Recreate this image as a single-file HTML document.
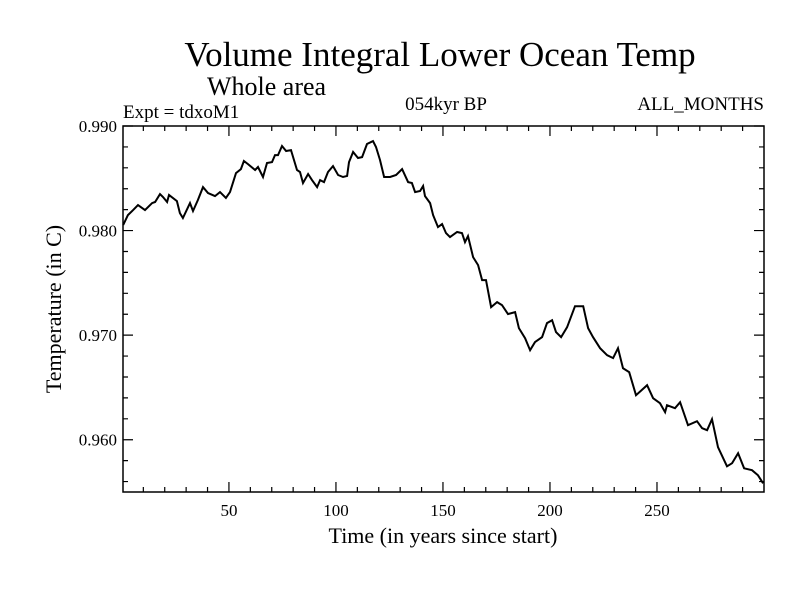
<!DOCTYPE html>
<html><head><meta charset="utf-8"><style>
body{margin:0;background:#fff;width:800px;height:600px;overflow:hidden}
text{font-family:"Liberation Serif",serif;fill:#000}
</style></head><body>
<svg id="chart" width="800" height="600" xmlns="http://www.w3.org/2000/svg">
<text x="440" y="66" font-size="35" text-anchor="middle">Volume Integral Lower Ocean Temp</text>
<text x="207" y="95" font-size="26">Whole area</text>
<text x="123" y="118" font-size="19">Expt = tdxoM1</text>
<text x="446" y="110" font-size="19" text-anchor="middle">054kyr BP</text>
<text x="764" y="110" font-size="19" text-anchor="end">ALL_MONTHS</text>
<text x="443" y="543" font-size="22" text-anchor="middle">Time (in years since start)</text>
<text transform="translate(61,309) rotate(-90)" font-size="22" text-anchor="middle">Temperature (in C)</text>
<g id="axes"></g>
<path id="series" fill="none" stroke="#000" stroke-width="2"/>
</svg>
<script>
const years=[0.6,2.8,5.2,7.5,10.8,14.1,15.5,17.8,19.2,21.1,22.0,25.7,27.1,28.5,31.8,33.2,35.5,37.9,40.2,43.5,45.8,48.6,50.5,53.3,55.6,57.0,58.9,62.2,63.6,65.9,67.8,70.1,71.5,72.9,74.8,76.7,79.0,81.8,83.2,84.6,87.0,88.8,91.2,92.6,94.4,96.3,98.6,101.0,103.3,105.2,106.1,108.0,110.3,112.2,114.5,117.3,118.7,120.6,122.5,125.3,128.1,130.9,133.7,135.5,137.0,139.3,140.7,141.6,144.0,145.4,147.7,149.6,151.4,153.3,156.6,158.9,160.3,161.7,164.1,166.4,168.3,170.1,172.5,175.3,177.6,180.4,183.7,185.5,188.4,190.7,193.0,196.3,198.6,201.0,202.8,205.2,208.0,211.7,215.5,217.8,220.1,223.4,226.7,229.5,231.8,234.1,237.0,240.2,245.4,248.2,251.4,253.8,254.7,258.4,260.8,264.5,268.7,271.1,273.4,275.7,278.5,282.7,285.1,287.9,290.7,294.4,297.2,299.6];
const temps=[0.98053,0.98148,0.98196,0.98244,0.98196,0.98263,0.98273,0.98349,0.98321,0.98273,0.98340,0.98282,0.98167,0.98120,0.98263,0.98187,0.98292,0.98416,0.98359,0.98330,0.98368,0.98311,0.98368,0.98550,0.98588,0.98665,0.98636,0.98579,0.98608,0.98512,0.98646,0.98655,0.98722,0.98722,0.98809,0.98761,0.98770,0.98579,0.98560,0.98455,0.98541,0.98483,0.98416,0.98483,0.98464,0.98560,0.98617,0.98531,0.98512,0.98522,0.98655,0.98751,0.98694,0.98703,0.98828,0.98856,0.98799,0.98675,0.98512,0.98512,0.98531,0.98588,0.98464,0.98455,0.98368,0.98378,0.98426,0.98330,0.98263,0.98148,0.98033,0.98062,0.97976,0.97938,0.97986,0.97976,0.97890,0.97947,0.97746,0.97670,0.97526,0.97526,0.97268,0.97316,0.97287,0.97201,0.97220,0.97067,0.96971,0.96856,0.96933,0.96981,0.97115,0.97143,0.97029,0.96981,0.97076,0.97277,0.97277,0.97067,0.96981,0.96875,0.96808,0.96780,0.96875,0.96684,0.96646,0.96426,0.96521,0.96397,0.96349,0.96263,0.96330,0.96301,0.96359,0.96139,0.96177,0.96110,0.96091,0.96196,0.95928,0.95746,0.95775,0.95871,0.95727,0.95708,0.95660,0.95583];
const xTicks=[50,100,150,200,250];
const yTicks=[0.960,0.970,0.980,0.990];
const yTickLabels=["0.960","0.970","0.980","0.990"];
const X0=123,X1=764,Y0=126,Y1=492,XMIN=0.5,XMAX=300,YMIN=0.955,YMAX=0.990;
const sx=v=>X0+(v-XMIN)/(XMAX-XMIN)*(X1-X0);
const sy=v=>Y1-(v-YMIN)/(YMAX-YMIN)*(Y1-Y0);
const NS="http://www.w3.org/2000/svg";
const g=document.getElementById('axes');
function mk(tag,attrs){const e=document.createElementNS(NS,tag);for(const k in attrs)e.setAttribute(k,attrs[k]);g.appendChild(e);return e;}
const frame=mk('rect',{x:X0,y:Y0,width:X1-X0,height:Y1-Y0,fill:'none',stroke:'#000','stroke-width':1.5});


let d='';
for(let t=10;t<300;t+=10){const x=sx(t);const L=t%50===0?10:5;d+=`M${x},${Y1}v${-L}M${x},${Y0}v${L}`;}
for(let k=0;k<=17;k++){const v=0.956+k*0.002;if(v>YMAX+1e-9)break;const y=sy(v);const L=Math.abs(Math.round(v*1000)%10)===0?10:5;d+=`M${X0},${y}h${L}M${X1},${y}h${-L}`;}
const ticks=mk('path',{d:d,stroke:'#000','stroke-width':1.2,fill:'none'});


xTicks.forEach(t=>{const e=mk('text',{x:sx(t),y:Y1+24,'font-size':17,'text-anchor':'middle'});e.textContent=String(t);

});
yTicks.forEach((t,i)=>{const e=mk('text',{x:X0-6,y:sy(t)+6,'font-size':17,'text-anchor':'end'});e.textContent=yTickLabels[i];

});
document.getElementById('series').setAttribute('d',years.map((t,i)=>(i?'L':'M')+sx(t).toFixed(1)+','+sy(temps[i]).toFixed(1)).join(''));
</script>
</body></html>
